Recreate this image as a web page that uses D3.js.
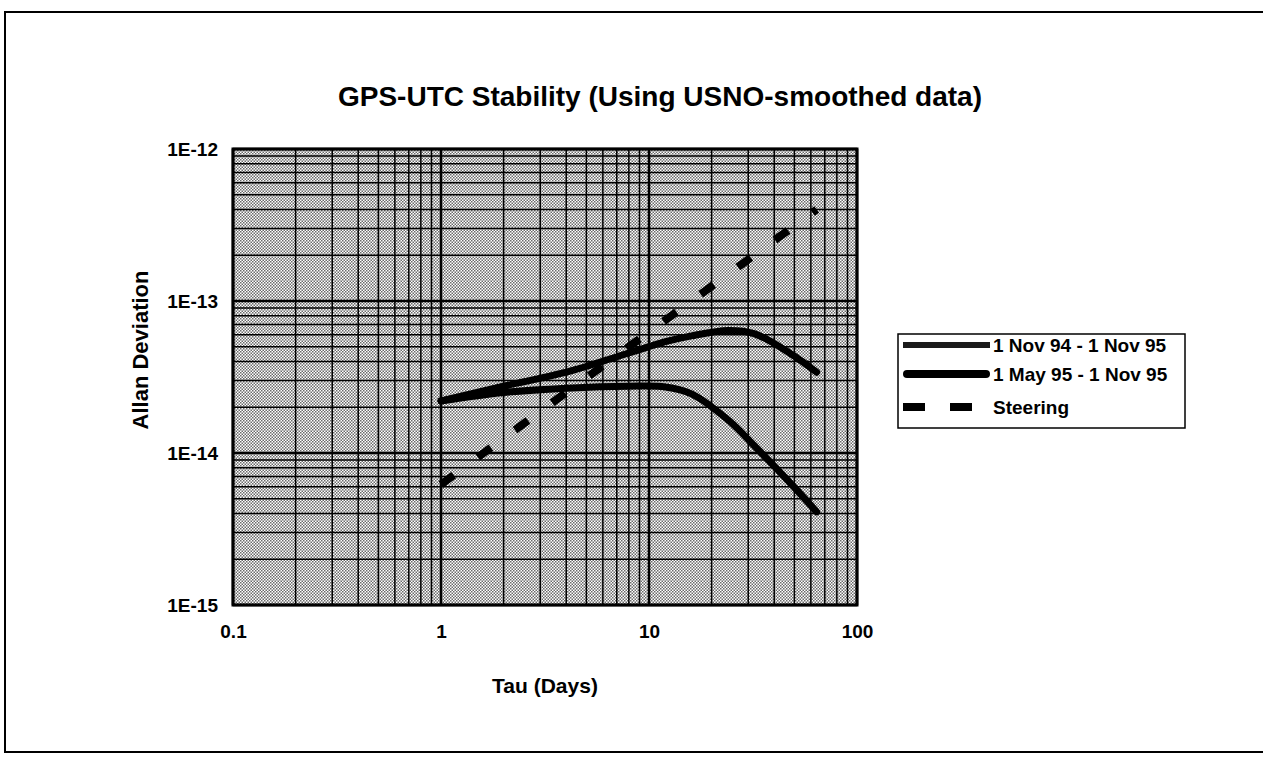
<!DOCTYPE html>
<html>
<head>
<meta charset="utf-8">
<script src="https://cdn.jsdelivr.net/npm/d3@7"></script>
<style>
  body { margin: 0; background: #fff; }
  text { font-family: "Liberation Sans", Arial, sans-serif; font-weight: bold; fill: #000; }
  .axis .domain { display: none; }
  .axis text { font-size: 19px; }
</style>
</head>
<body>
<script>
// values (tau in days, Allan deviation)
var tau = [1, 2, 4, 8, 12, 16, 24, 32, 48, 64];
var nov94Nov95 = [2.2e-14, 2.5e-14, 2.67e-14, 2.75e-14, 2.72e-14, 2.45e-14, 1.65e-14, 1.12e-14, 6.3e-15, 4.1e-15];
var may95Nov95 = [2.2e-14, 2.75e-14, 3.4e-14, 4.55e-14, 5.4e-14, 5.9e-14, 6.4e-14, 6.1e-14, 4.5e-14, 3.4e-14];
var steeringTau = [1, 2, 4, 8, 16, 32, 64];
var steering = [6.2e-15, 1.25e-14, 2.5e-14, 5e-14, 1e-13, 2e-13, 4e-13];

var xTickValues = [0.1, 1, 10, 100];
var xTickLabels = ['0.1', '1', '10', '100'];
var yTickValues = [1e-12, 1e-13, 1e-14, 1e-15];
var yTickLabels = ['1E-12', '1E-13', '1E-14', '1E-15'];
var seriesNames = ['1 Nov 94 - 1 Nov 95', '1 May 95 - 1 Nov 95', 'Steering'];

var W = 1263, H = 765;
var plot = { left: 233, right: 857, top: 149, bottom: 605 };

var svg = d3.select('body').append('svg')
	.attr('width', W)
	.attr('height', H);

// halftone look for the plot area
var defs = svg.append('defs');
var pat = defs.append('pattern')
	.attr('id', 'halftone')
	.attr('patternUnits', 'userSpaceOnUse')
	.attr('width', 3)
	.attr('height', 3);
pat.append('rect').attr('width', 3).attr('height', 3).attr('fill', '#fff');
pat.append('rect').attr('x', 0).attr('y', 0).attr('width', 1.5).attr('height', 1.5).attr('fill', '#6a6a6a');
pat.append('rect').attr('x', 1.5).attr('y', 1.5).attr('width', 1.5).attr('height', 1.5).attr('fill', '#6a6a6a');

// outer frame
svg.append('rect')
	.attr('x', 5).attr('y', 12)
	.attr('width', W + 20).attr('height', 740)
	.attr('fill', 'none')
	.attr('stroke', '#000')
	.attr('stroke-width', 2);

var x = d3.scaleLog()
	.domain([0.1, 100])
	.range([plot.left, plot.right]);

var y = d3.scaleLog()
	.domain([1e-15, 1e-12])
	.range([plot.bottom, plot.top]);

svg.append('rect')
	.attr('x', plot.left)
	.attr('y', plot.top)
	.attr('width', plot.right - plot.left)
	.attr('height', plot.bottom - plot.top)
	.attr('fill', 'url(#halftone)');

// grid
function isMajor(v) {
	var l = Math.log10(v);
	return Math.abs(l - Math.round(l)) < 1e-6;
}

var grid = svg.append('g').attr('class', 'grid');
grid.selectAll('line.gx')
	.data(x.ticks())
	.enter().append('line')
		.attr('class', 'gx')
		.attr('x1', function(d) { return x(d); })
		.attr('x2', function(d) { return x(d); })
		.attr('y1', plot.top)
		.attr('y2', plot.bottom)
		.attr('stroke', '#000')
		.attr('stroke-width', function(d) { return isMajor(d) ? 2.5 : 1.5; });

grid.selectAll('line.gy')
	.data(y.ticks())
	.enter().append('line')
		.attr('class', 'gy')
		.attr('x1', plot.left)
		.attr('x2', plot.right)
		.attr('y1', function(d) { return y(d); })
		.attr('y2', function(d) { return y(d); })
		.attr('stroke', '#000')
		.attr('stroke-width', function(d) { return isMajor(d) ? 2.5 : 1.5; });

svg.append('rect')
	.attr('x', plot.left)
	.attr('y', plot.top)
	.attr('width', plot.right - plot.left)
	.attr('height', plot.bottom - plot.top)
	.attr('fill', 'none')
	.attr('stroke', '#000')
	.attr('stroke-width', 3);

// axes (labels only)
svg.append('g')
	.attr('class', 'axis axis--x')
	.attr('transform', 'translate(0,' + plot.bottom + ')')
	.call(d3.axisBottom(x)
		.tickValues(xTickValues)
		.tickSize(0)
		.tickPadding(20)
		.tickFormat(function(d, i) { return xTickLabels[i]; }));

svg.append('g')
	.attr('class', 'axis axis--y')
	.attr('transform', 'translate(' + plot.left + ',0)')
	.call(d3.axisLeft(y)
		.tickValues(yTickValues)
		.tickSize(0)
		.tickPadding(15)
		.tickFormat(function(d, i) { return yTickLabels[i]; }));

// lines
var line = d3.line()
	.curve(d3.curveCatmullRom)
	.x(function(d) { return x(d[0]); })
	.y(function(d) { return y(d[1]); });

svg.append('path')
	.datum(d3.zip(steeringTau, steering))
	.attr('fill', 'none')
	.attr('stroke', '#000')
	.attr('stroke-width', 8)
	.attr('stroke-dasharray', '16,30')
	.attr('d', line);

svg.append('path')
	.datum(d3.zip(tau, nov94Nov95))
	.attr('fill', 'none')
	.attr('stroke', '#000')
	.attr('stroke-width', 7)
	.attr('stroke-linecap', 'round')
	.attr('d', line);

svg.append('path')
	.datum(d3.zip(tau, may95Nov95))
	.attr('fill', 'none')
	.attr('stroke', '#000')
	.attr('stroke-width', 7)
	.attr('stroke-linecap', 'round')
	.attr('d', line);

// titles
svg.append('text')
	.attr('x', 660)
	.attr('y', 106)
	.attr('text-anchor', 'middle')
	.style('font-size', '28px')
	.text('GPS-UTC Stability (Using USNO-smoothed data)');

svg.append('text')
	.attr('x', (plot.left + plot.right) / 2)
	.attr('y', 693)
	.attr('text-anchor', 'middle')
	.style('font-size', '21px')
	.text('Tau (Days)');

svg.append('text')
	.attr('transform', 'translate(148,' + 350 + ') rotate(-90)')
	.attr('text-anchor', 'middle')
	.style('font-size', '22px')
	.text('Allan Deviation');

// legend
var legend = svg.append('g').attr('class', 'legend');
legend.append('rect')
	.attr('x', 898).attr('y', 334)
	.attr('width', 287).attr('height', 94)
	.attr('fill', '#fff')
	.attr('stroke', '#000')
	.attr('stroke-width', 1.5);

var rowY = [345, 374, 407];
var rows = legend.selectAll('g.row')
	.data(seriesNames)
	.enter().append('g')
		.attr('class', 'row')
		.attr('transform', function(d, i) { return 'translate(0,' + rowY[i] + ')'; });

rows.append('line')
	.attr('x1', function(d, i) { return i === 1 ? 907 : 903; })
	.attr('x2', function(d, i) { return i === 1 ? 986 : 990; })
	.attr('stroke', function(d, i) { return i === 0 ? '#1a1a1a' : '#000'; })
	.attr('stroke-width', function(d, i) { return i === 0 ? 6 : 8; })
	.attr('stroke-linecap', function(d, i) { return i === 1 ? 'round' : 'butt'; })
	.attr('stroke-dasharray', function(d, i) { return i === 2 ? '22,25' : null; });

rows.append('text')
	.attr('x', 993)
	.attr('dy', '0.36em')
	.style('font-size', '19px')
	.text(function(d) { return d; });
</script>
</body>
</html>
